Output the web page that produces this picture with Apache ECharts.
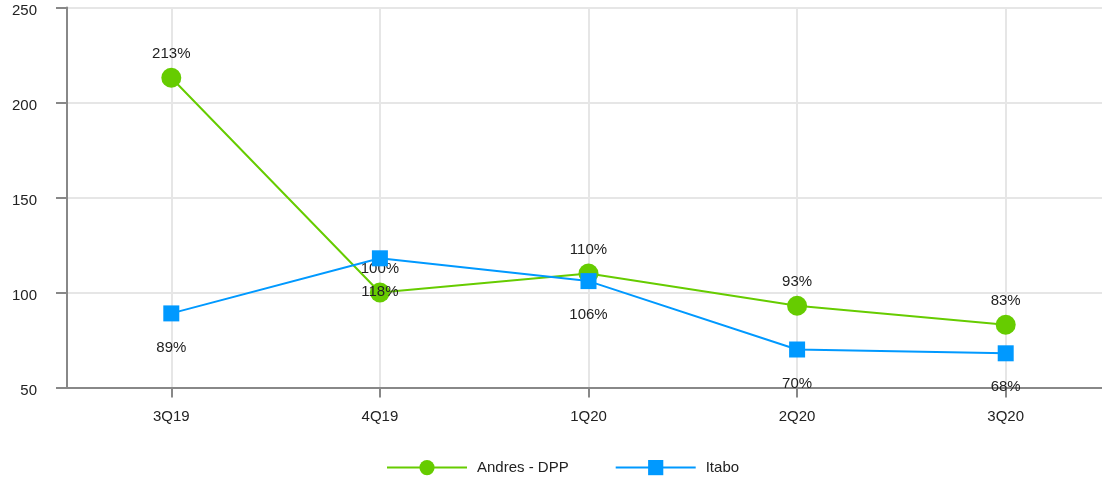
<!DOCTYPE html>
<html>
<head>
<meta charset="utf-8">
<script src="https://cdn.jsdelivr.net/npm/echarts@6/dist/echarts.min.js"></script>
<style>
  html, body { margin: 0; padding: 0; background: #fff; }
  #chart { width: 1102px; height: 477px; }
</style>
</head>
<body>
<div id="chart"></div>
<script>
// Quarterly ratio (%) for two plants
const quarters = ['3Q19', '4Q19', '1Q20', '2Q20', '3Q20'];
const andresDpp = [213, 100, 110, 93, 83];
const itabo = [89, 118, 106, 70, 68];
const yTicks = { min: 50, max: 250, interval: 50 };

const GREEN = '#66cc00';
const BLUE = '#0099ff';
const TEXT = '#222';
const FONT = 'Liberation Sans, Arial, sans-serif';
const FS = 15;

const chart = echarts.init(document.getElementById('chart'), null, { renderer: 'canvas' });

chart.setOption({
  animation: false,
  textStyle: { fontFamily: FONT },
  grid: {
    left: 67, top: 7.5, width: 1043, height: 380,
    containLabel: false,
    outerBoundsMode: 'none'
  },
  legend: {
    left: 386,
    top: 460,
    padding: 0,
    itemWidth: 80,
    itemHeight: 19,
    itemGap: 46,
    textStyle: { fontSize: FS, color: TEXT, fontFamily: FONT, padding: [0, 0, 0, 5] },
    data: ['Andres - DPP', 'Itabo']
  },
  xAxis: {
    type: 'category',
    data: quarters,
    boundaryGap: true,
    axisLine: { show: true, lineStyle: { color: '#888', width: 2 } },
    axisTick: { show: true, alignWithLabel: true, length: 10, lineStyle: { color: '#888', width: 2 } },
    axisLabel: { color: TEXT, fontSize: FS, margin: 22, fontFamily: FONT },
    splitLine: { show: true, alignWithLabel: true, lineStyle: { color: '#e6e6e6', width: 2 } }
  },
  yAxis: {
    type: 'value',
    min: yTicks.min,
    max: yTicks.max,
    interval: yTicks.interval,
    axisLine: { show: true, lineStyle: { color: '#888', width: 2 } },
    axisTick: { show: true, length: 11, lineStyle: { color: '#888', width: 2 } },
    axisLabel: {
      color: TEXT, fontSize: FS, margin: 30, fontFamily: FONT,
      verticalAlign: 'top', lineHeight: 7
    },
    splitLine: { show: true, lineStyle: { color: '#e6e6e6', width: 2 } }
  },
  series: [
    {
      name: 'Andres - DPP',
      type: 'line',
      data: andresDpp,
      symbol: 'circle',
      symbolSize: 20,
      itemStyle: { color: GREEN },
      lineStyle: { color: GREEN, width: 2 },
      label: {
        show: true,
        position: 'top',
        distance: 6,
        formatter: p => p.value + '%',
        color: TEXT,
        fontSize: FS,
        fontFamily: FONT
      },
      z: 2
    },
    {
      name: 'Itabo',
      type: 'line',
      data: itabo,
      symbol: 'rect',
      symbolSize: 16,
      itemStyle: { color: BLUE },
      lineStyle: { color: BLUE, width: 2 },
      label: {
        show: true,
        position: 'bottom',
        distance: 18.5,
        formatter: p => p.value + '%',
        color: TEXT,
        fontSize: FS,
        fontFamily: FONT
      },
      z: 3
    }
  ]
});
</script>
</body>
</html>
